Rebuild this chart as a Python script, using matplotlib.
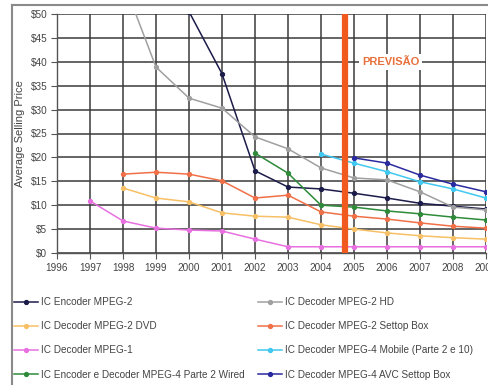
import numpy as np
import matplotlib
matplotlib.use("Agg")
import matplotlib.pyplot as plt
from matplotlib.lines import Line2D

plt.rcParams['font.family'] = ['Liberation Sans', 'DejaVu Sans']

nan = np.nan
years = list(range(1996, 2010))

enc_mpeg2   = [nan, nan, nan, nan, 50.5, 37.5, 17.2, 13.8, 13.4, 12.5, 11.5, 10.4, 9.8, 9.2]
dec_hd      = [nan, nan, 57.0, 38.9, 32.4, 30.3, 24.3, 21.8, 17.8, 15.7, 15.3, 12.8, 9.6, 9.0]
dec_dvd     = [nan, nan, 13.6, 11.5, 10.7, 8.4, 7.7, 7.5, 5.9, 5.0, 4.2, 3.6, 3.2, 2.9]
dec_settop  = [nan, nan, 16.5, 16.9, 16.5, 15.1, 11.5, 12.1, 8.6, 7.7, 7.1, 6.3, 5.6, 5.2]
dec_mpeg1   = [nan, 10.9, 6.7, 5.2, 4.8, 4.6, 2.9, 1.3, 1.3, 1.3, 1.3, 1.3, 1.3, 1.3]
dec_mobile  = [nan, nan, nan, nan, nan, nan, nan, nan, 20.7, 18.8, 17.0, 14.9, 13.4, 11.5]
encdec_wired = [nan, nan, nan, nan, nan, nan, 20.9, 16.7, 10.0, 9.6, 8.8, 8.2, 7.5, 6.9]
dec_avc     = [nan, nan, nan, nan, nan, nan, nan, nan, nan, 19.9, 18.8, 16.3, 14.4, 12.8]

series = [
    ("IC Encoder MPEG-2", enc_mpeg2, "#1c1c4a"),
    ("IC Decoder MPEG-2 DVD", dec_dvd, "#f7c066"),
    ("IC Decoder MPEG-1", dec_mpeg1, "#e870e0"),
    ("IC Encoder e Decoder MPEG-4 Parte 2 Wired", encdec_wired, "#2e8b3a"),
    ("IC Decoder MPEG-2 HD", dec_hd, "#a0a0a0"),
    ("IC Decoder MPEG-2 Settop Box", dec_settop, "#f07048"),
    ("IC Decoder MPEG-4 Mobile (Parte 2 e 10)", dec_mobile, "#40c8f0"),
    ("IC Decoder MPEG-4 AVC Settop Box", dec_avc, "#2a2aa0"),
]

yticks = [0, 5, 10, 15, 20, 25, 30, 35, 40, 45, 50]
ytick_labels = ["$%d" % v for v in yticks]
forecast_x = 2004.72
forecast_label = "PREVISÃO"

W, H = 489, 385
fig = plt.figure(figsize=(W / 100, H / 100), dpi=100)
fig.patch.set_facecolor("white")

def px(x0, y0, x1, y1):
    return [x0 / W, 1 - y1 / H, (x1 - x0) / W, (y1 - y0) / H]

ax = fig.add_axes(px(57, 14, 486, 253))
ax.set_xlim(1996, 2009)
ax.set_ylim(0, 50)

handles = {}
for name, vals, col in series:
    l, = ax.plot(years, vals, color=col, lw=1.1, marker="o", ms=2.8, zorder=3)
    handles[name] = l

ax.axvline(forecast_x, color="#f05a1e", lw=4.5, zorder=4, solid_capstyle="butt")
ax.text(2006.12, 40, forecast_label, color="#e8703a", fontsize=8, fontweight="bold",
        ha="center", va="center", zorder=5,
        bbox=dict(facecolor="white", edgecolor="none", pad=2.0))

ax.set_xticks(years)
ax.set_xticklabels([str(y) for y in years])
ax.set_yticks(yticks)
ax.set_yticklabels(ytick_labels)
ax.grid(True, color="#3a3a3a", lw=1.1, zorder=0)
ax.set_axisbelow(True)
for s in ["top", "right"]:
    ax.spines[s].set_visible(False)
for s in ["left", "bottom"]:
    ax.spines[s].set_color("#555555")
    ax.spines[s].set_linewidth(1.0)
ax.tick_params(axis="both", labelsize=7.2, colors="#555555", labelcolor="#444444",
               length=4, width=0.8, pad=3)
ax.set_ylabel("Average Selling Price", fontsize=8, color="#444444", labelpad=4)

# frame (top and left visible)
fig.add_artist(Line2D([12 / W, 12 / W], [0, 1 - 5 / H], color="#8a8a8a", lw=1.5))
fig.add_artist(Line2D([12 / W, 1], [1 - 5 / H, 1 - 5 / H], color="#8a8a8a", lw=1.5))

col1 = [s[0] for s in series[:4]]
col2 = [s[0] for s in series[4:]]
common = dict(frameon=False, fontsize=7.2, handlelength=2.4, handletextpad=0.3,
              labelspacing=1.42, borderpad=0, borderaxespad=0, loc="upper left")
leg1 = fig.legend([handles[n] for n in col1], col1,
                  bbox_to_anchor=(14 / W, 1 - 297 / H), **common)
leg2 = fig.legend([handles[n] for n in col2], col2,
                  bbox_to_anchor=(258 / W, 1 - 297 / H), **common)
for lg in (leg1, leg2):
    for t in lg.get_texts():
        t.set_color("#444444")

fig.savefig("out.png", dpi=100)
